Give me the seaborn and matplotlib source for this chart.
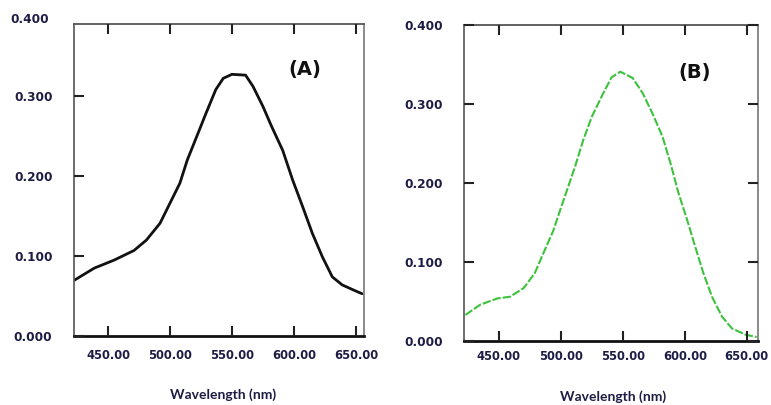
import matplotlib
matplotlib.use("Agg")
import matplotlib.pyplot as plt
import numpy as np
import pandas as pd
import seaborn as sns

# absorption spectra (wavelength read against the tick labels)
wl_a = [423, 439, 455, 471, 481, 492, 500, 508, 514, 521, 529, 537, 543,
        550, 561, 567, 575, 582, 591, 599, 607, 615, 623, 631, 639, 649, 655]
abs_a = [0.070, 0.085, 0.095, 0.107, 0.120, 0.141, 0.166, 0.191, 0.220, 0.247,
         0.278, 0.308, 0.322, 0.327, 0.326, 0.312, 0.287, 0.262, 0.232, 0.195,
         0.162, 0.128, 0.099, 0.074, 0.064, 0.057, 0.053]

wl_b = [423, 435, 449, 459, 470, 479, 487, 494, 499.5, 505, 511.5, 518, 525,
        534, 541, 548, 558, 566, 574, 582, 588.5, 595, 602, 608.5, 615, 622,
        630, 638, 649, 658]
abs_b = [0.033, 0.046, 0.054, 0.056, 0.067, 0.086, 0.115, 0.140, 0.166, 0.191,
         0.221, 0.254, 0.284, 0.313, 0.334, 0.341, 0.333, 0.314, 0.288, 0.259,
         0.225, 0.187, 0.153, 0.119, 0.086, 0.056, 0.031, 0.016, 0.008, 0.005]

x_ticks = [450, 500, 550, 600, 650]
y_ticks = [0.0, 0.1, 0.2, 0.3, 0.4]

sns.set_theme(style="ticks")
plt.rcParams["font.family"] = ["DejaVu Sans"]
plt.rcParams["axes.axisbelow"] = False

df_a = pd.DataFrame({"wl": wl_a, "abs": abs_a})
df_b = pd.DataFrame({"wl": wl_b, "abs": abs_b})

fig = plt.figure(figsize=(7.71, 4.05), dpi=100)
ax_a = fig.add_axes([0.096, 0.170, 0.376, 0.771])
ax_b = fig.add_axes([0.602, 0.158, 0.381, 0.780])

lab_col = "#1c1c44"

sns.lineplot(data=df_a, x="wl", y="abs", ax=ax_a, color="#111111", linewidth=2.0)
sns.lineplot(data=df_b, x="wl", y="abs", ax=ax_b, color="#3cc23c", linewidth=1.5)
ax_b.lines[0].set_dashes([4, 1])

ax_a.set_xlim(422.6, 656.5)
ax_a.set_ylim(0, 0.39)
ax_b.set_xlim(422, 659)
ax_b.set_ylim(0, 0.4)

for ax in [ax_a, ax_b]:
    ax.set_xticks(x_ticks)
    ax.set_xticklabels(["%.2f" % v for v in x_ticks])
    if ax is ax_a:
        ax.set_yticks(y_ticks[:4])
        ax.set_yticklabels(["%.3f" % v for v in y_ticks[:4]])
    else:
        ax.set_yticks(y_ticks)
        ax.set_yticklabels(["%.3f" % v for v in y_ticks])
    # ticks point inward, top ticks on both panels, right ticks only in B
    ax.tick_params(axis="x", which="major", bottom=True, top=True,
                   direction="in", length=7, width=1.5, color="#222222",
                   pad=9 if ax is ax_a else 6.5, labelsize=8.3,
                   labelcolor=lab_col, labelbottom=True, labeltop=False)
    ax.tick_params(axis="y", which="major", left=True, right=(ax is ax_b),
                   direction="in", length=7, width=1.5, color="#222222",
                   pad=15.5, labelsize=8.7, labelcolor=lab_col,
                   labelleft=True, labelright=False)
    for t in ax.get_xticklabels():
        t.set_fontweight("bold")
    for t in ax.get_yticklabels():
        t.set_fontweight("bold")
    ax.spines["bottom"].set_linewidth(2.0)
    ax.spines["bottom"].set_color("#111111")
    ax.spines["left"].set_linewidth(1.2)
    ax.spines["left"].set_color("#555555")
    ax.spines["top"].set_linewidth(1.3)
    ax.spines["top"].set_color("#555555")
    ax.spines["right"].set_linewidth(1.2)
    ax.spines["right"].set_color("#777777")
    ax.set_xlabel("Wavelength (nm)", fontsize=10, fontweight="bold",
                  family="Lato", color=lab_col)
    ax.set_ylabel("")

ax_a.xaxis.set_label_coords(0.514, -0.167)
ax_b.xaxis.set_label_coords(0.507, -0.155)

# panel A stops just under 0.4, its top label sits above the box
ax_a.text(-0.088, 0.396, "0.400", transform=ax_a.get_yaxis_transform(),
          ha="right", va="center", fontsize=8.7, fontweight="bold",
          color=lab_col, clip_on=False)

ax_a.text(0.797, 0.853, "(A)", transform=ax_a.transAxes, ha="center", va="center",
          fontsize=14, fontweight="bold", color="#111111")
ax_b.text(0.786, 0.851, "(B)", transform=ax_b.transAxes, ha="center", va="center",
          fontsize=14, fontweight="bold", color="#111111")

# touch the tick objects once so their inward marks are set up before saving
for ax in [ax_a, ax_b]:
    for tk in ax.xaxis.get_major_ticks() + ax.yaxis.get_major_ticks():
        for ln in (tk.tick1line, tk.tick2line):
            ln.get_visible(), ln.get_marker(), ln.get_markersize()
            ln.get_markeredgewidth(), ln.get_markeredgecolor()

fig.savefig("out.png", dpi=100)
